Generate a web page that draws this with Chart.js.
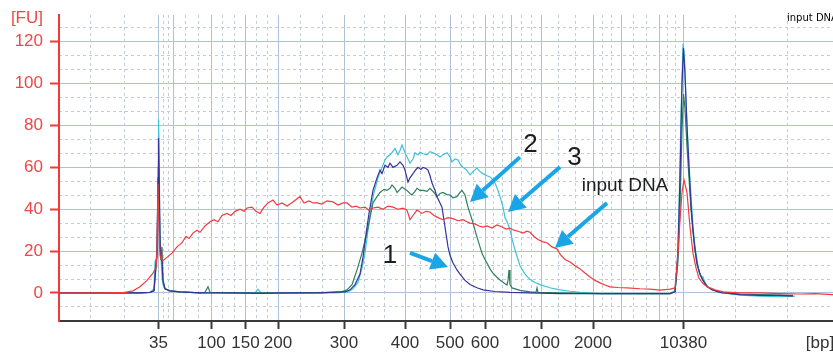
<!DOCTYPE html>
<html>
<head>
<meta charset="utf-8">
<title>Electropherogram</title>
<script src="https://cdn.jsdelivr.net/npm/chart.js@4.4.1/dist/chart.umd.min.js"></script>
<style>
  html, body { margin: 0; padding: 0; background: #fff; }
  #wrap { width: 833px; height: 354px; }
</style>
</head>
<body>
<div id="wrap"><canvas id="fuChart" width="833" height="354"></canvas></div>
<script>
// ladder peaks (bp) and where they sit on the migration axis (data points)
const ladderBp = [35, 50, 100, 150, 200, 300, 400, 500, 600, 700, 1000, 2000, 3000, 7000, 10380];
const ladderPos = [99.5, 114, 152.5, 186.5, 219, 285, 346, 391, 426, 452, 482, 534, 562, 600, 624.5];
const labeledBp = [35, 100, 150, 200, 300, 400, 500, 600, 1000, 2000, 10380];
const fuTicks = [0, 20, 40, 60, 80, 100, 120];

// input DNA
const redX = [0,41,66,74,81,88,94,97,98,99,100,101,102,104,108,113,118,123,127,130,134,138,141,146,151,155,159,163,168,172,176,181,185,188,193,197,201,205,209,214,218,223,228,234,238,241,245,250,254,258,263,268,274,279,284,288,293,297,301,306,310,314,319,324,329,334,339,344,348,351,354,358,363,367,371,375,379,384,389,394,399,404,408,411,416,420,424,428,433,438,443,447,451,455,459,464,468,471,475,479,484,488,493,498,501,506,511,516,521,526,531,536,541,546,551,559,568,581,591,601,611,616,619,621,623,625,628,631,634,637,640,644,648,656,664,681,701,721,741,756,774];
const redY = [0,0,0.3,1,3,6,9.5,12,20,52,30,18,16,15.5,17,19,22,24,27,26,28.6,30,29,32,34,35,34,37,38,37,39,40,39,40.6,41,39,38,41,43,44.4,42,43,41.5,43.5,45,46,43,44,43,43,42.5,44,43.5,42,43,43,41,41.5,40.6,41,39.5,40.6,41,40,41.5,41,40,40.5,39.6,35,37,39.6,38,39,38.7,37,36,35,36,35.5,34.5,35,34,33.4,33,32,31.5,32,31,32.5,31.5,30.5,31,30,29.5,28.6,29.5,29,27,25.5,24.4,24,22,21,18.5,16,14.8,13,11.5,9.5,7.6,6,4.8,3.8,2.9,2.6,2.4,2,1.8,1.4,1.8,2.4,19,35,48,54,48,31.5,19,12,7,4.5,3,1.5,0.5,0,0,-0.3,-0.5,-0.3,-0.8];

// sample 1
const navyX = [0,40,81,91,95,97,98,99,99.5,100,101,102,103,104,106,111,121,141,171,201,231,261,271,278,286,291,296,301,304,307,310,314,318,321,323,326,329,331,334,338,341,344,346,349,351,354,357,359,362,364,367,369,371,373,376,378,381,383,386,389,391,394,398,401,406,411,418,424,436,451,471,501,541,581,611,616,619,621,623,624.5,626,628,630,632,634,636,638,641,644,648,653,661,681,701,721,734];
const navyY = [0,0,0,0.3,1,14,20,55,74,60,25,16,15,6,2,1,0.5,0,0,-0.2,0,0,0.3,0.5,0.5,1.5,4,9,17,28,38,49,55,58.7,57,61,60,62,60,61,62.6,61,58.7,53,55,57,59,60,59,60,59.5,58.7,56,52.5,49,46,43,41,31.5,22,18,14.3,11,9,6,4,2.5,1.5,0.7,0.3,0,-0.3,-0.3,-0.3,-0.3,0.5,20,55,100,117,105,80,60,42,30,21,14,9,6,3,1.5,0.3,-0.8,-1.2,-1.2,-1.5];

// sample 2
const greenX = [0,81,91,95,97,98,99,99.5,100,101,102,103,104,106,111,121,141,146,149,151,171,201,241,271,281,288,293,298,303,308,311,314,318,321,325,328,331,333,336,338,341,343,346,348,351,353,356,358,361,364,368,371,375,378,381,384,388,391,394,398,401,403,406,409,411,413,416,418,421,423,426,428,431,434,438,441,445,448,449,450,451,453,461,471,477,478,479,501,541,591,611,616,619,621,623,624.5,626,628,630,632,634,636,638,641,644,648,653,661,681,701,721,734];
const greenY = [0,0,0.3,1,12,17,45,63,50,22,18,22,6,2,1,0.5,0,0.3,3,0.3,0,0,0,0.3,0.3,1.5,4,11,19,29,36,43,46,48,49.5,49,50,51.6,50,48,49.5,50.6,49.5,49,47.5,46.8,48.5,50,49,49,48.5,50,48,46,47.5,48,47,46.8,45.5,46,48,49,46.8,41,38,35,30,26.7,22,19,16,14.3,11.5,9.5,7.5,6.2,4.8,3.8,6,11,4,2.4,1.2,0.5,0.3,2.4,0.3,0,-0.3,-0.3,-0.3,0.5,15,40,78,95,88,70,55,40,29,20,14,9,6,3,1.5,0.3,-0.5,-0.8,-1,-1.2];

// sample 3
const cyanX = [0,81,91,95,96,98,99,99.5,100,101,102,103,104,106,111,121,141,171,196,199,202,241,276,289,294,299,303,306,309,312,315,319,323,326,328,331,333,336,339,341,343,346,349,351,354,356,359,361,364,368,371,374,378,381,384,388,391,393,396,399,402,404,407,411,414,418,421,424,428,431,434,436,439,441,444,446,449,451,453,456,459,461,466,471,476,481,491,501,511,521,541,591,611,616,618,620,622,624,625.5,627,629,631,634,636,638,640,642,644,646,649,654,661,681,701,721,736];
const cyanY = [0,0,0.3,2,15,17,60,83,72,30,17,8,4,2,1,0.5,0,0,0,1.8,0,0,0,0.5,2,5,12,19,30,40,48,55,60,63.5,65,66,67,69,66,68,70.7,67,64,62,64,67,66,67.3,66.5,66,67.5,67,66,65,66,67,65,62.6,64,63.5,61,60,59,56.4,58,59.7,58,57,56,55.4,54,52.5,49,46,41,36,33,30,26,20.5,16,13,9,6.5,5,4,2.5,1.5,0.8,0.3,-0.3,-0.3,-0.3,1,10,40,85,119,112,90,70,54,31.5,22,16,10,8,7.6,5,3,1.5,0.3,-1,-1.5,-1.8,-1.5];

const xMin = 0, xMax = 774;
const yMin = -13.4, yMax = 132.8;
const fuLabelAt = 131.3;
const bpLabelAt = 761;

const callouts = [
  { text: '1', at: [331, 14.3], tail: [351, 19.1], tip: [389, 12.4], size: 26 },
  { text: '2', at: [471.5, 67.3], tail: [461, 64.9], tip: [411, 43.5], size: 26 },
  { text: '3', at: [515.5, 61.1], tail: [501, 60.2], tip: [449, 38.7], size: 26 },
  { text: 'input DNA', at: [566, 48.7], tail: [548, 43.0], tip: [496, 21.5], size: 19 }
];

const FONT = '"Liberation Sans", Arial, Helvetica, sans-serif';
const CLEAR = 'rgba(0,0,0,0)';

function toPoints(xs, ys) {
  return xs.map((x, i) => ({ x: x, y: ys[i] }));
}

function minorXTicks() {
  const out = [31, 65];
  for (let i = 0; i < ladderPos.length - 1; i++) {
    const a = ladderPos[i], b = ladderPos[i + 1];
    out.push(a + (b - a) / 3, a + 2 * (b - a) / 3);
  }
  out.push(676, 728);
  return out;
}

function minorYTicks() {
  const out = [];
  for (let k = -1; k <= 19; k++) {
    if (k % 3 !== 0) out.push(k * 20 / 3);
  }
  return out;
}

function xLabel(value) {
  if (value === bpLabelAt) return '[bp]';
  const i = ladderPos.indexOf(value);
  if (i < 0) return '';
  return labeledBp.includes(ladderBp[i]) ? String(ladderBp[i]) : '';
}

function drawArrow(ctx, x1, y1, x2, y2) {
  const ang = Math.atan2(y2 - y1, x2 - x1);
  const head = 17, half = 9;
  const bx = x2 - head * Math.cos(ang);
  const by = y2 - head * Math.sin(ang);
  ctx.beginPath();
  ctx.moveTo(x1, y1);
  ctx.lineTo(bx, by);
  ctx.stroke();
  ctx.beginPath();
  ctx.moveTo(x2, y2);
  ctx.lineTo(bx + half * Math.sin(ang), by - half * Math.cos(ang));
  ctx.lineTo(bx - half * Math.sin(ang), by + half * Math.cos(ang));
  ctx.closePath();
  ctx.fill();
}

const calloutPlugin = {
  id: 'callouts',
  afterDatasetsDraw(chart) {
    const ctx = chart.ctx;
    const xs = chart.scales.x, ys = chart.scales.y;
    ctx.save();
    ctx.strokeStyle = '#1aa6e6';
    ctx.fillStyle = '#1aa6e6';
    ctx.lineWidth = 4;
    callouts.forEach(c => {
      drawArrow(ctx, xs.getPixelForValue(c.tail[0]), ys.getPixelForValue(c.tail[1]),
        xs.getPixelForValue(c.tip[0]), ys.getPixelForValue(c.tip[1]));
    });
    ctx.fillStyle = '#1e1e1e';
    ctx.textAlign = 'center';
    ctx.textBaseline = 'alphabetic';
    callouts.forEach(c => {
      ctx.font = c.size + 'px ' + FONT;
      ctx.fillText(c.text, xs.getPixelForValue(c.at[0]), ys.getPixelForValue(c.at[1]));
    });
    // small legend entry, top right
    ctx.font = '10px "DejaVu Sans", sans-serif';
    ctx.textAlign = 'left';
    ctx.fillStyle = '#000';
    ctx.fillText('input DNA', xs.getPixelForValue(728), ys.getPixelForValue(129.9));
    ctx.restore();
  }
};

function series(label, xs, ys, color) {
  return {
    label: label,
    data: toPoints(xs, ys),
    borderColor: color,
    borderWidth: 1.2,
    pointRadius: 0,
    tension: 0,
    fill: false,
    xAxisID: 'x',
    yAxisID: 'y'
  };
}

function setupChart() {
  const ctx = document.getElementById('fuChart').getContext('2d');
  new Chart(ctx, {
    type: 'line',
    data: {
      datasets: [
        series('input DNA', redX, redY, '#f03a3d'),
        series('1', navyX, navyY, '#32349b'),
        series('2', greenX, greenY, '#2f7f5f'),
        series('3', cyanX, cyanY, '#3cc3d8')
      ]
    },
    options: {
      responsive: false,
      animation: false,
      devicePixelRatio: 1,
      layout: { padding: { top: 15, right: 0, bottom: 0, left: 0 } },
      plugins: { legend: { display: false }, tooltip: { enabled: false } },
      scales: {
        x: {
          type: 'linear',
          position: 'bottom',
          min: xMin, max: xMax,
          afterBuildTicks: s => { s.ticks = ladderPos.concat([bpLabelAt]).map(v => ({ value: v })); },
          afterFit: s => { s.height = 33; s.paddingLeft = 0; s.paddingRight = 0; },
          ticks: {
            autoSkip: false, maxRotation: 0, padding: 4, color: '#333',
            font: { family: FONT, size: 17 },
            callback: v => xLabel(v)
          },
          grid: {
            color: c => (c.tick && c.tick.value === bpLabelAt) ? CLEAR : '#aec1d8',
            lineWidth: 1,
            tickLength: 8,
            tickWidth: 2,
            tickColor: c => (c.tick && xLabel(c.tick.value) !== '' && c.tick.value !== bpLabelAt) ? '#3a3a3a' : CLEAR
          },
          border: { color: '#3a3a3a', width: 2 }
        },
        y: {
          type: 'linear',
          position: 'left',
          min: yMin, max: yMax,
          afterBuildTicks: s => { s.ticks = fuTicks.concat([fuLabelAt]).map(v => ({ value: v })); },
          afterFit: s => { s.width = 59; s.paddingTop = 0; s.paddingBottom = 0; },
          ticks: {
            padding: 7, color: '#f04646',
            font: { family: FONT, size: 17 },
            callback: v => v === fuLabelAt ? '[FU]' : String(v)
          },
          grid: {
            color: c => (c.tick && c.tick.value === fuLabelAt) ? CLEAR : '#aec1d8',
            lineWidth: 1,
            tickLength: 9,
            tickWidth: 2,
            tickColor: c => (c.tick && c.tick.value === fuLabelAt) ? CLEAR : '#f03a3a'
          },
          border: { color: '#f03a3a', width: 2 }
        },
        x2: {
          type: 'linear',
          position: 'top',
          min: xMin, max: xMax,
          afterBuildTicks: s => { s.ticks = minorXTicks().map(v => ({ value: v })); },
          afterFit: s => { s.height = 0; s.paddingLeft = 0; s.paddingRight = 0; },
          ticks: { display: false },
          grid: { color: '#c2ccd7', lineWidth: 1, drawTicks: false },
          border: { display: false, dash: [3, 3] }
        },
        y2: {
          type: 'linear',
          position: 'right',
          min: yMin, max: yMax,
          afterBuildTicks: s => { s.ticks = minorYTicks().map(v => ({ value: v })); },
          afterFit: s => { s.width = 0; s.paddingTop = 0; s.paddingBottom = 0; },
          ticks: { display: false },
          grid: { color: '#c2ccd7', lineWidth: 1, drawTicks: false },
          border: { display: false, dash: [3, 3] }
        }
      }
    },
    plugins: [calloutPlugin]
  });
}

window.onload = setupChart;
</script>
</body>
</html>
